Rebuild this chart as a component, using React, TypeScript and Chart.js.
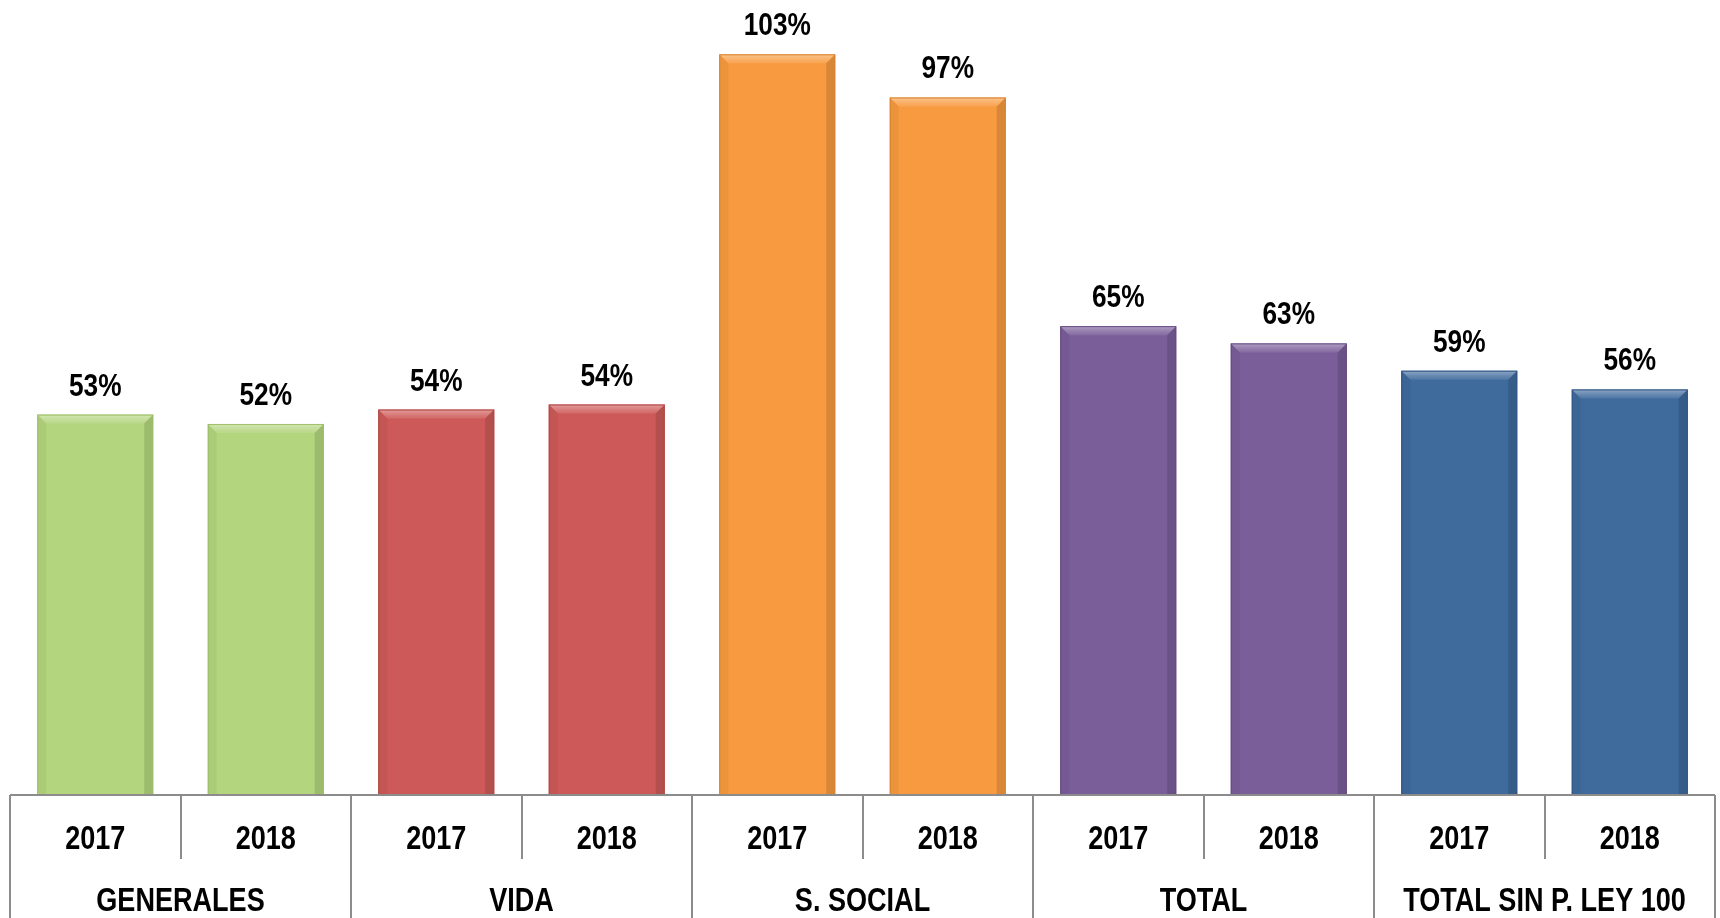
import React, { useEffect, useRef } from "react";
import { Chart, registerables } from "chart.js";

Chart.register(...registerables);

const groups = ["GENERALES", "VIDA", "S. SOCIAL", "TOTAL", "TOTAL SIN P. LEY 100"];
const years = ["2017", "2018"];
const values = [52.9, 51.6, 53.6, 54.3, 103.0, 97.0, 65.2, 62.8, 59.0, 56.4];
const groupColors = ["#B3D57E", "#CD5A58", "#F89B40", "#7A5E99", "#3E6A9C"];
const groupBorders = ["#9DBE68", "#B04744", "#D9822E", "#644A82", "#2F5584"];

const labels: string[][] = [];
groups.forEach((g) => years.forEach((y) => labels.push([y, g])));
const barColors = labels.map((_, i) => groupColors[Math.floor(i / 2)]);
const barBorders = labels.map((_, i) => groupBorders[Math.floor(i / 2)]);

const FONT = '"Liberation Sans", Arial, sans-serif';
const NARROW = 0.82;

function narrowText(ctx: CanvasRenderingContext2D, text: string, x: number, y: number, size: number) {
  ctx.save();
  ctx.font = `bold ${size}px ${FONT}`;
  ctx.translate(x, y);
  ctx.scale(NARROW, 1);
  ctx.fillText(text, 0, 0);
  ctx.restore();
}

function shade(hex: string, amt: number, alpha: number) {
  const c = amt > 0 ? 255 : 0;
  const a = Math.abs(amt);
  const r = parseInt(hex.slice(1, 3), 16);
  const g = parseInt(hex.slice(3, 5), 16);
  const b = parseInt(hex.slice(5, 7), 16);
  const m = (v: number) => Math.round(v + (c - v) * a);
  return `rgba(${m(r)},${m(g)},${m(b)},${alpha})`;
}

const bevelPlugin = {
  id: "bevel",
  afterDatasetsDraw(chart: any) {
    const ctx = chart.ctx;
    const meta = chart.getDatasetMeta(0);
    meta.data.forEach((bar: any, i: number) => {
      const col = barColors[i];
      const w = bar.width;
      const l = bar.x - w / 2;
      const r = bar.x + w / 2;
      const t = bar.y;
      const b = bar.base;
      const d = 9;
      ctx.save();
      const gt = ctx.createLinearGradient(0, t, 0, t + d);
      gt.addColorStop(0, shade(col, 0.45, 0.95));
      gt.addColorStop(1, shade(col, 0.15, 0.6));
      ctx.fillStyle = gt;
      ctx.beginPath();
      ctx.moveTo(l, t); ctx.lineTo(r, t); ctx.lineTo(r - d, t + d); ctx.lineTo(l + d, t + d); ctx.closePath();
      ctx.fill();
      ctx.fillStyle = shade(col, -0.08, 0.6);
      ctx.beginPath();
      ctx.moveTo(l, t); ctx.lineTo(l + d, t + d); ctx.lineTo(l + d, b); ctx.lineTo(l, b); ctx.closePath();
      ctx.fill();
      ctx.fillStyle = shade(col, -0.18, 0.7);
      ctx.beginPath();
      ctx.moveTo(r, t); ctx.lineTo(r - d, t + d); ctx.lineTo(r - d, b); ctx.lineTo(r, b); ctx.closePath();
      ctx.fill();
      ctx.strokeStyle = barBorders[i];
      ctx.lineWidth = 1;
      ctx.strokeRect(l + 0.5, t + 0.5, w - 1, b - t);
      ctx.restore();
      ctx.save();
      ctx.fillStyle = "#000";
      ctx.textAlign = "center";
      ctx.textBaseline = "alphabetic";
      narrowText(ctx, `${Math.round(values[i])}%`, bar.x, t - 19, 32);
      ctx.restore();
    });
  },
};

const axisPlugin = {
  id: "groupAxis",
  afterDraw(chart: any) {
    const ctx = chart.ctx;
    const xs = chart.scales.x;
    const area = chart.chartArea;
    const y0 = area.bottom;
    const H = chart.height;
    const yMid = y0 + 64;
    const step = xs.getPixelForValue(1) - xs.getPixelForValue(0);
    const left = xs.getPixelForValue(0) - step / 2;
    const right = xs.getPixelForValue(labels.length - 1) + step / 2;
    ctx.save();
    ctx.strokeStyle = "#8C8C8C";
    ctx.lineWidth = 2;
    ctx.beginPath();
    ctx.moveTo(left, y0); ctx.lineTo(right, y0);
    for (let i = 0; i <= labels.length; i++) {
      const x = Math.round(left + i * step);
      ctx.moveTo(x, y0);
      ctx.lineTo(x, i % 2 === 0 ? H : yMid);
    }
    ctx.stroke();
    ctx.fillStyle = "#000";
    ctx.textAlign = "center";
    ctx.textBaseline = "middle";
    labels.forEach((lab, i) => {
      narrowText(ctx, lab[0], xs.getPixelForValue(i), y0 + 45, 33);
    });
    groups.forEach((g, gi) => {
      const cx = (xs.getPixelForValue(gi * 2) + xs.getPixelForValue(gi * 2 + 1)) / 2;
      narrowText(ctx, g, cx, y0 + 107, 33);
    });
    ctx.restore();
  },
};

export default function App() {
  const ref = useRef<HTMLCanvasElement | null>(null);
  useEffect(() => {
    document.body.style.margin = "0";
    const chart = new Chart(ref.current as HTMLCanvasElement, {
      type: "bar",
      data: {
        labels: labels.map((l) => l.join(" ")),
        datasets: [
          {
            data: values,
            backgroundColor: barColors,
            borderWidth: 0,
            barPercentage: 0.68,
            categoryPercentage: 1,
          },
        ],
      },
      options: {
        animation: false,
        responsive: false,
        maintainAspectRatio: false,
        layout: { padding: { left: 10, right: 5, top: 4, bottom: 123 } },
        plugins: { legend: { display: false }, tooltip: { enabled: false } },
        scales: {
          x: { display: false },
          y: { display: false, min: 0, max: 110 },
        },
      },
      plugins: [bevelPlugin, axisPlugin],
    });
    return () => chart.destroy();
  }, []);
  return (
    <div style={{ width: 1720, height: 918, background: "#fff" }}>
      <canvas ref={ref} width={1720} height={918} />
    </div>
  );
}
